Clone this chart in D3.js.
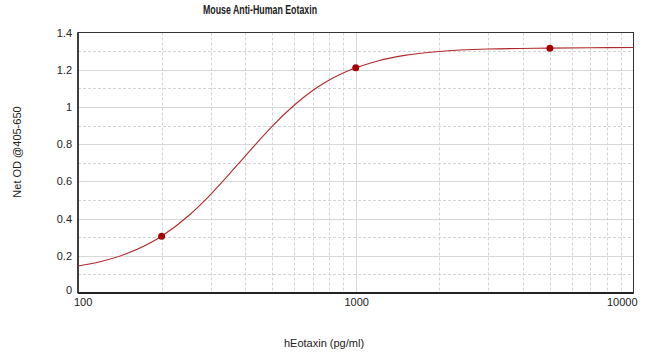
<!DOCTYPE html>
<html>
<head>
<meta charset="utf-8">
<script src="https://cdn.jsdelivr.net/npm/d3@7"></script>
<style>
  body { margin: 0; background: #fff; }
  text { font-family: "Liberation Sans", Arial, sans-serif; fill: #222; }
</style>
</head>
<body>
<div id="chart"></div>
<script>
// standard points (pg/ml vs OD)
const stdConc = [200, 1000, 5000];
const stdOD = [0.305, 1.21, 1.316];

// fitted curve
const curveConc = [100, 120, 150, 200, 250, 300, 350, 400, 450, 500, 600, 700, 800, 1000, 1200, 1500, 2000, 3000, 5000, 7000, 10000];
const curveOD = [0.145, 0.168, 0.212, 0.305, 0.415, 0.529, 0.638, 0.736, 0.822, 0.896, 1.009, 1.088, 1.143, 1.21, 1.247, 1.277, 1.298, 1.311, 1.316, 1.318, 1.319];

const yTicks = [0, 0.2, 0.4, 0.6, 0.8, 1, 1.2, 1.4];
const yMinor = [0.1, 0.3, 0.5, 0.7, 0.9, 1.1, 1.3];
const xTicks = [100, 1000, 10000];
const xMinor = [200, 300, 400, 500, 600, 700, 800, 900, 2000, 3000, 4000, 5000, 6000, 7000, 8000, 9000];

const width = 650, height = 354;
const margin = {top: 32.5, right: 16.5, bottom: 61, left: 78};

const svg = d3.select("#chart").append("svg")
    .attr("width", width)
    .attr("height", height);

const x = d3.scaleLog()
    .domain([100, 10000])
    .range([margin.left, width - margin.right]);

const y = d3.scaleLinear()
    .domain([0, 1.4])
    .range([height - margin.bottom, margin.top]);

// grid
svg.append("g").selectAll("line")
    .data(yMinor)
    .join("line")
    .attr("x1", margin.left).attr("x2", width - margin.right)
    .attr("y1", d => Math.round(y(d)) + 0.5).attr("y2", d => Math.round(y(d)) + 0.5)
    .attr("stroke", "#d4d4d4").attr("stroke-dasharray", "3,2");

svg.append("g").selectAll("line")
    .data(yTicks.slice(1, -1))
    .join("line")
    .attr("x1", margin.left).attr("x2", width - margin.right)
    .attr("y1", d => Math.round(y(d)) + 0.5).attr("y2", d => Math.round(y(d)) + 0.5)
    .attr("stroke", "#d8d8d8");

svg.append("g").selectAll("line")
    .data(xMinor)
    .join("line")
    .attr("x1", d => Math.round(x(d)) + 0.5).attr("x2", d => Math.round(x(d)) + 0.5)
    .attr("y1", margin.top).attr("y2", height - margin.bottom)
    .attr("stroke", "#d4d4d4").attr("stroke-dasharray", "3,2");

svg.append("line")
    .attr("x1", Math.round(x(1000)) + 0.5).attr("x2", Math.round(x(1000)) + 0.5)
    .attr("y1", margin.top).attr("y2", height - margin.bottom)
    .attr("stroke", "#d8d8d8");

// frame
svg.append("rect")
    .attr("x", margin.left).attr("y", margin.top)
    .attr("width", width - margin.left - margin.right)
    .attr("height", height - margin.top - margin.bottom)
    .attr("fill", "none").attr("stroke", "#333").attr("stroke-width", 1);

svg.append("line")
    .attr("x1", margin.left).attr("x2", width - margin.right)
    .attr("y1", height - margin.bottom).attr("y2", height - margin.bottom)
    .attr("stroke", "#222").attr("stroke-width", 2);

svg.append("line")
    .attr("x1", margin.left).attr("x2", margin.left)
    .attr("y1", margin.top).attr("y2", height - margin.bottom)
    .attr("stroke", "#222").attr("stroke-width", 1.5);

// curve
const curve = curveConc.map((c, i) => ({c: c, v: curveOD[i]}));
const line = d3.line()
    .x(d => x(d.c))
    .y(d => y(d.v))
    .curve(d3.curveMonotoneX);

svg.append("path")
    .datum(curve)
    .attr("fill", "none")
    .attr("stroke", "#b0282c")
    .attr("stroke-width", 1.1)
    .attr("d", line);

svg.append("g").selectAll("circle")
    .data(stdConc)
    .join("circle")
    .attr("cx", d => x(d))
    .attr("cy", (d, i) => y(stdOD[i]))
    .attr("r", 3.5)
    .attr("fill", "#a50000");

// y tick labels
svg.append("g").selectAll("text")
    .data(yTicks)
    .join("text")
    .attr("x", d => d === 0 ? 72 : 72)
    .attr("y", d => d === 0 ? y(d) + 1 : y(d) + 4)
    .attr("text-anchor", "end")
    .attr("font-size", 11)
    .text(d => d3.format("")(d));

// x tick labels
svg.append("g").selectAll("text")
    .data(xTicks)
    .join("text")
    .attr("x", d => d === 10000 ? x(d) + 4 : d === 100 ? x(d) - 4 : x(d) + 1)
    .attr("y", height - margin.bottom + 13)
    .attr("text-anchor", d => d === 10000 ? "end" : d === 100 ? "start" : "middle")
    .attr("font-size", 11)
    .text(d => d);

// titles
svg.append("text")
    .attr("x", 260).attr("y", 14)
    .attr("text-anchor", "middle")
    .attr("font-size", 12)
    .attr("font-weight", "bold")
    .attr("textLength", 114)
    .attr("lengthAdjust", "spacingAndGlyphs")
    .text("Mouse Anti-Human Eotaxin");

svg.append("text")
    .attr("x", 324).attr("y", 347)
    .attr("text-anchor", "middle")
    .attr("font-size", 11)
    .text("hEotaxin (pg/ml)");

svg.append("text")
    .attr("transform", "translate(21,152) rotate(-90)")
    .attr("text-anchor", "middle")
    .attr("font-size", 11)
    .text("Net OD @405-650");
</script>
</body>
</html>
